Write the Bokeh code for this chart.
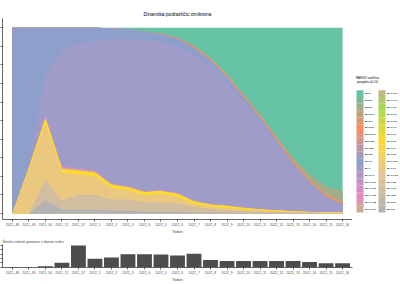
from bokeh.plotting import figure
from bokeh.models import ColumnDataSource, Range1d, FixedTicker
from bokeh.layouts import column, row
from bokeh.embed import file_html
from bokeh.resources import INLINE
from bokeh.core.properties import value

FONT = "Liberation Sans"

weeks = ["2021_48", "2021_49", "2021_50", "2021_51", "2021_52",
         "2022_1", "2022_2", "2022_3", "2022_4", "2022_5", "2022_6", "2022_7",
         "2022_8", "2022_9", "2022_10", "2022_11", "2022_12", "2022_13",
         "2022_14", "2022_15", "2022_16"]

variants_left = ["BA.2", "BA.2.9", "BA.2.3", "BA.2.9.1", "BA.2.1", "BA.2.10",
                 "BA.2.10.1", "BA.2.18", "BA.2.20", "BA.2.8", "BA.1.1", "BA.1",
                 "BA.1.1.1", "BA.1.1.16", "BA.1.1.13", "BA.1.1.15", "BA.1.1.18",
                 "BA.1.1.10"]
variants_right = ["BA.1.1.11", "BA.1.1.14", "BA.1.1.2", "BA.1.1.3", "BA.1.1.5",
                  "BA.1.1.7", "BA.1.1.9", "BA.1.13", "BA.1.14", "BA.1.15",
                  "BA.1.15.1", "BA.1.17", "BA.1.17.2", "BA.1.18", "BA.1.19",
                  "BA.1.20", "BA.1.21", "BA.1.8"]
variants = variants_left + variants_right

# weekly shares
ba2      = [0, 0, 0, 0, 0, 0, 0.003, 0.008, 0.018, 0.031, 0.055, 0.10, 0.165,
            0.255, 0.36, 0.468, 0.585, 0.698, 0.788, 0.853, 0.878]
ba2_3    = [0, 0, 0, 0, 0, 0, 0, 0, 0, 0, 0, 0, 0, 0, 0, 0.005, 0.01, 0.02,
            0.03, 0.045, 0.06]
ba2_10   = [0, 0, 0, 0, 0, 0, 0, 0, 0, 0.004, 0.006, 0.008, 0.01, 0.012, 0.012,
            0.013, 0.013, 0.012, 0.012, 0.012, 0.012]
ba1_1    = [1.0, 0.72, 0.25, 0.12, 0.08, 0.07, 0.06, 0.05, 0.05, 0.04, 0.04,
            0.035, 0.03, 0.03, 0.025, 0.02, 0.015, 0.01, 0.01, 0.005, 0.005]
ba1      = [0, 0.03, 0.23, 0.63, 0.68, 0.70, 0.777, 0.797, 0.812, 0.80, 0.789,
            0.788, 0.745, 0.66, 0.571, 0.47, 0.359, 0.246, 0.15, 0.076, 0.036]
ba1_1_18 = [0, 0.005, 0.01, 0.01, 0.01, 0.01, 0.005, 0.005, 0.005, 0.005,
            0.005, 0.004, 0.003, 0.003, 0.002, 0.002, 0.001, 0.001, 0.001,
            0.001, 0.001]
ba1_13   = [0, 0.012, 0.03, 0.02, 0.02, 0.02, 0.018, 0.016, 0.016, 0.016,
            0.016, 0.013, 0.011, 0.011, 0.009, 0.007, 0.006, 0.005, 0.003,
            0.003, 0.003]
ba1_17   = [0, 0.233, 0.30, 0.15, 0.11, 0.10, 0.062, 0.049, 0.039, 0.044,
            0.034, 0.017, 0.011, 0.011, 0.009, 0.005, 0.004, 0.003, 0.002,
            0.002, 0.002]
ba1_19   = [0, 0, 0.11, 0.05, 0.08, 0.08, 0.06, 0.06, 0.05, 0.05, 0.045, 0.03,
            0.02, 0.015, 0.01, 0.008, 0.006, 0.004, 0.003, 0.003, 0.003]
ba1_8    = [0, 0, 0.07, 0.02, 0.02, 0.02, 0.015, 0.015, 0.01, 0.01, 0.01,
            0.005, 0.005, 0.003, 0.002, 0.002, 0.001, 0.001, 0.001, 0, 0]

# number of whole genomes per week
genomes = [2, 3, 21, 106, 500, 195, 225, 302, 302, 296, 268, 311, 169, 142,
           142, 142, 142, 142, 120, 91, 91]

shares = {
    "BA.2": ba2, "BA.2.3": ba2_3, "BA.2.10": ba2_10, "BA.1.1": ba1_1,
    "BA.1": ba1, "BA.1.1.18": ba1_1_18, "BA.1.13": ba1_13,
    "BA.1.17": ba1_17, "BA.1.19": ba1_19, "BA.1.8": ba1_8,
}

# palette: Set2 ramped to the number of variants
set2 = ["#66C2A5", "#FC8D62", "#8DA0CB", "#E78AC3", "#A6D854", "#FFD92F",
        "#E5C494", "#B3B3B3"]


def ramp(hexes, n):
    rgb = [tuple(int(h[i:i + 2], 16) for i in (1, 3, 5)) for h in hexes]
    out = []
    for k in range(n):
        t = k * (len(rgb) - 1) / (n - 1)
        j = min(int(t), len(rgb) - 2)
        f = t - j
        c = [round(rgb[j][m] + f * (rgb[j + 1][m] - rgb[j][m])) for m in range(3)]
        out.append("#%02x%02x%02x" % tuple(c))
    return out


colors = ramp(set2, len(variants))

# filled (100 %) stack; first variant on top, last at the bottom
n = len(weeks)
raw = [list(shares.get(name, [0] * n)) for name in variants]
totals = [sum(r[i] for r in raw) for i in range(n)]
norm = [[r[i] / totals[i] for i in range(n)] for r in raw]
data = {"x": list(range(n))}
for k in range(len(variants)):
    # upper edge of band k = sum of the shares of bands k..end
    data["top%d" % k] = [sum(norm[j][i] for j in range(k, len(variants)))
                         for i in range(n)]
src = ColumnDataSource(data)

# ---------------- top: stacked area ----------------
p = figure(width=352, height=236, x_range=Range1d(-0.6, n - 1 + 0.6),
           y_range=Range1d(-0.032, 1.05), output_backend="svg",
           toolbar_location=None, min_border_left=0, min_border_right=0,
           min_border_top=18, min_border_bottom=0,
           title="Dinamika podrazličic omikrona")
for k in range(len(variants)):
    p.varea(x="x", y1=0, y2="top%d" % k, color=colors[k], source=src)

p.title.align = "center"
p.title.text_font = FONT
p.title.text_font_size = "5px"
p.title.text_font_style = "normal"
p.title.text_color = "#000000"
p.title.standoff = 4

p.grid.visible = False
p.outline_line_color = None
p.background_fill_color = "white"


def style_axes(fig, yt):
    fig.yaxis.ticker = FixedTicker(ticks=yt)
    fig.yaxis.major_label_overrides = {t: "" for t in yt}
    fig.yaxis.major_label_standoff = 0
    fig.yaxis.major_tick_out = 2
    fig.yaxis.major_tick_in = 0
    fig.yaxis.minor_tick_line_color = None
    fig.yaxis.axis_line_width = 0.6
    fig.yaxis.major_tick_line_width = 0.6

    fig.xaxis.ticker = FixedTicker(ticks=list(range(n)))
    fig.xaxis.major_label_overrides = {i: w for i, w in enumerate(weeks)}
    fig.xaxis.major_label_text_font = FONT
    fig.xaxis.major_label_text_font_size = "3.4px"
    fig.xaxis.major_label_text_line_height = 1.0
    fig.xaxis.major_label_text_color = "#4D4D4D"
    fig.xaxis.major_label_standoff = 1
    fig.xaxis.major_tick_out = 2
    fig.xaxis.major_tick_in = 0
    fig.xaxis.minor_tick_line_color = None
    fig.xaxis.axis_line_width = 0.6
    fig.xaxis.major_tick_line_width = 0.6
    fig.xaxis.axis_label = "Teden"
    fig.xaxis.axis_label_text_font = FONT
    fig.xaxis.axis_label_text_font_size = "3.8px"
    fig.xaxis.axis_label_text_line_height = 1.0
    fig.xaxis.axis_label_text_font_style = "normal"
    fig.xaxis.axis_label_standoff = 0


style_axes(p, [0, 0.1, 0.2, 0.3, 0.4, 0.5, 0.6, 0.7, 0.8, 0.9, 1.0])

# ---------------- legend ----------------
# the row aligns this panel's frame with the chart frame (about 17..218 px),
# so the y range is set to read directly in page pixels
leg = figure(width=48, height=236, x_range=Range1d(352, 400),
             y_range=Range1d(218.3, 17.2), output_backend="svg",
             toolbar_location=None, min_border=0,
             x_axis_location=None, y_axis_location=None)
leg.grid.visible = False
leg.outline_line_color = None

per_col = len(variants_left)
row_h = 6.8
top0 = 89
col_x = [356, 378]
sw = 7
L, R, T, B, tx, ty = [], [], [], [], [], []
for k, name in enumerate(variants):
    c, r = divmod(k, per_col)
    L.append(col_x[c])
    R.append(col_x[c] + sw)
    T.append(top0 + r * row_h)
    B.append(top0 + (r + 1) * row_h)
    tx.append(col_x[c] + sw + 1.5)
    ty.append(top0 + (r + 0.5) * row_h)
leg.quad(left=L, right=R, top=T, bottom=B, fill_color=colors, line_color=None)
leg.text(x=tx, y=ty, text=variants, text_font=value(FONT),
         text_font_size="2.4px", text_baseline="middle", text_align="left",
         text_color="#000000", text_font_style="bold")
leg.text(x=[367, 367], y=[76, 80.5], text=["PANGO različica", "pangolin v4.0.6"],
         text_font=value(FONT), text_font_size="3.1px", text_baseline="middle",
         text_align="center", text_color="#000000")

# ---------------- bottom: genome counts ----------------
q = figure(width=400, height=48, x_range=Range1d(-0.6, n - 1 + 0.6),
           y_range=Range1d(-5, 523), output_backend="svg",
           toolbar_location=None, min_border_left=0, min_border_right=48,
           min_border_top=8, min_border_bottom=0,
           title="Število celotnih genomov v danem tednu")
q.vbar(x=list(range(n)), top=genomes, width=0.9, fill_color="#4D4D4D",
       line_color=None)
q.title.align = "left"
q.title.text_font = FONT
q.title.text_font_size = "3.4px"
q.title.text_font_style = "normal"
q.title.standoff = 1
q.grid.visible = False
q.outline_line_color = None
style_axes(q, [0, 100, 200, 300, 400, 500])

layout = column(row(p, leg), q)
open("out.html", "w").write(file_html(layout, INLINE))
